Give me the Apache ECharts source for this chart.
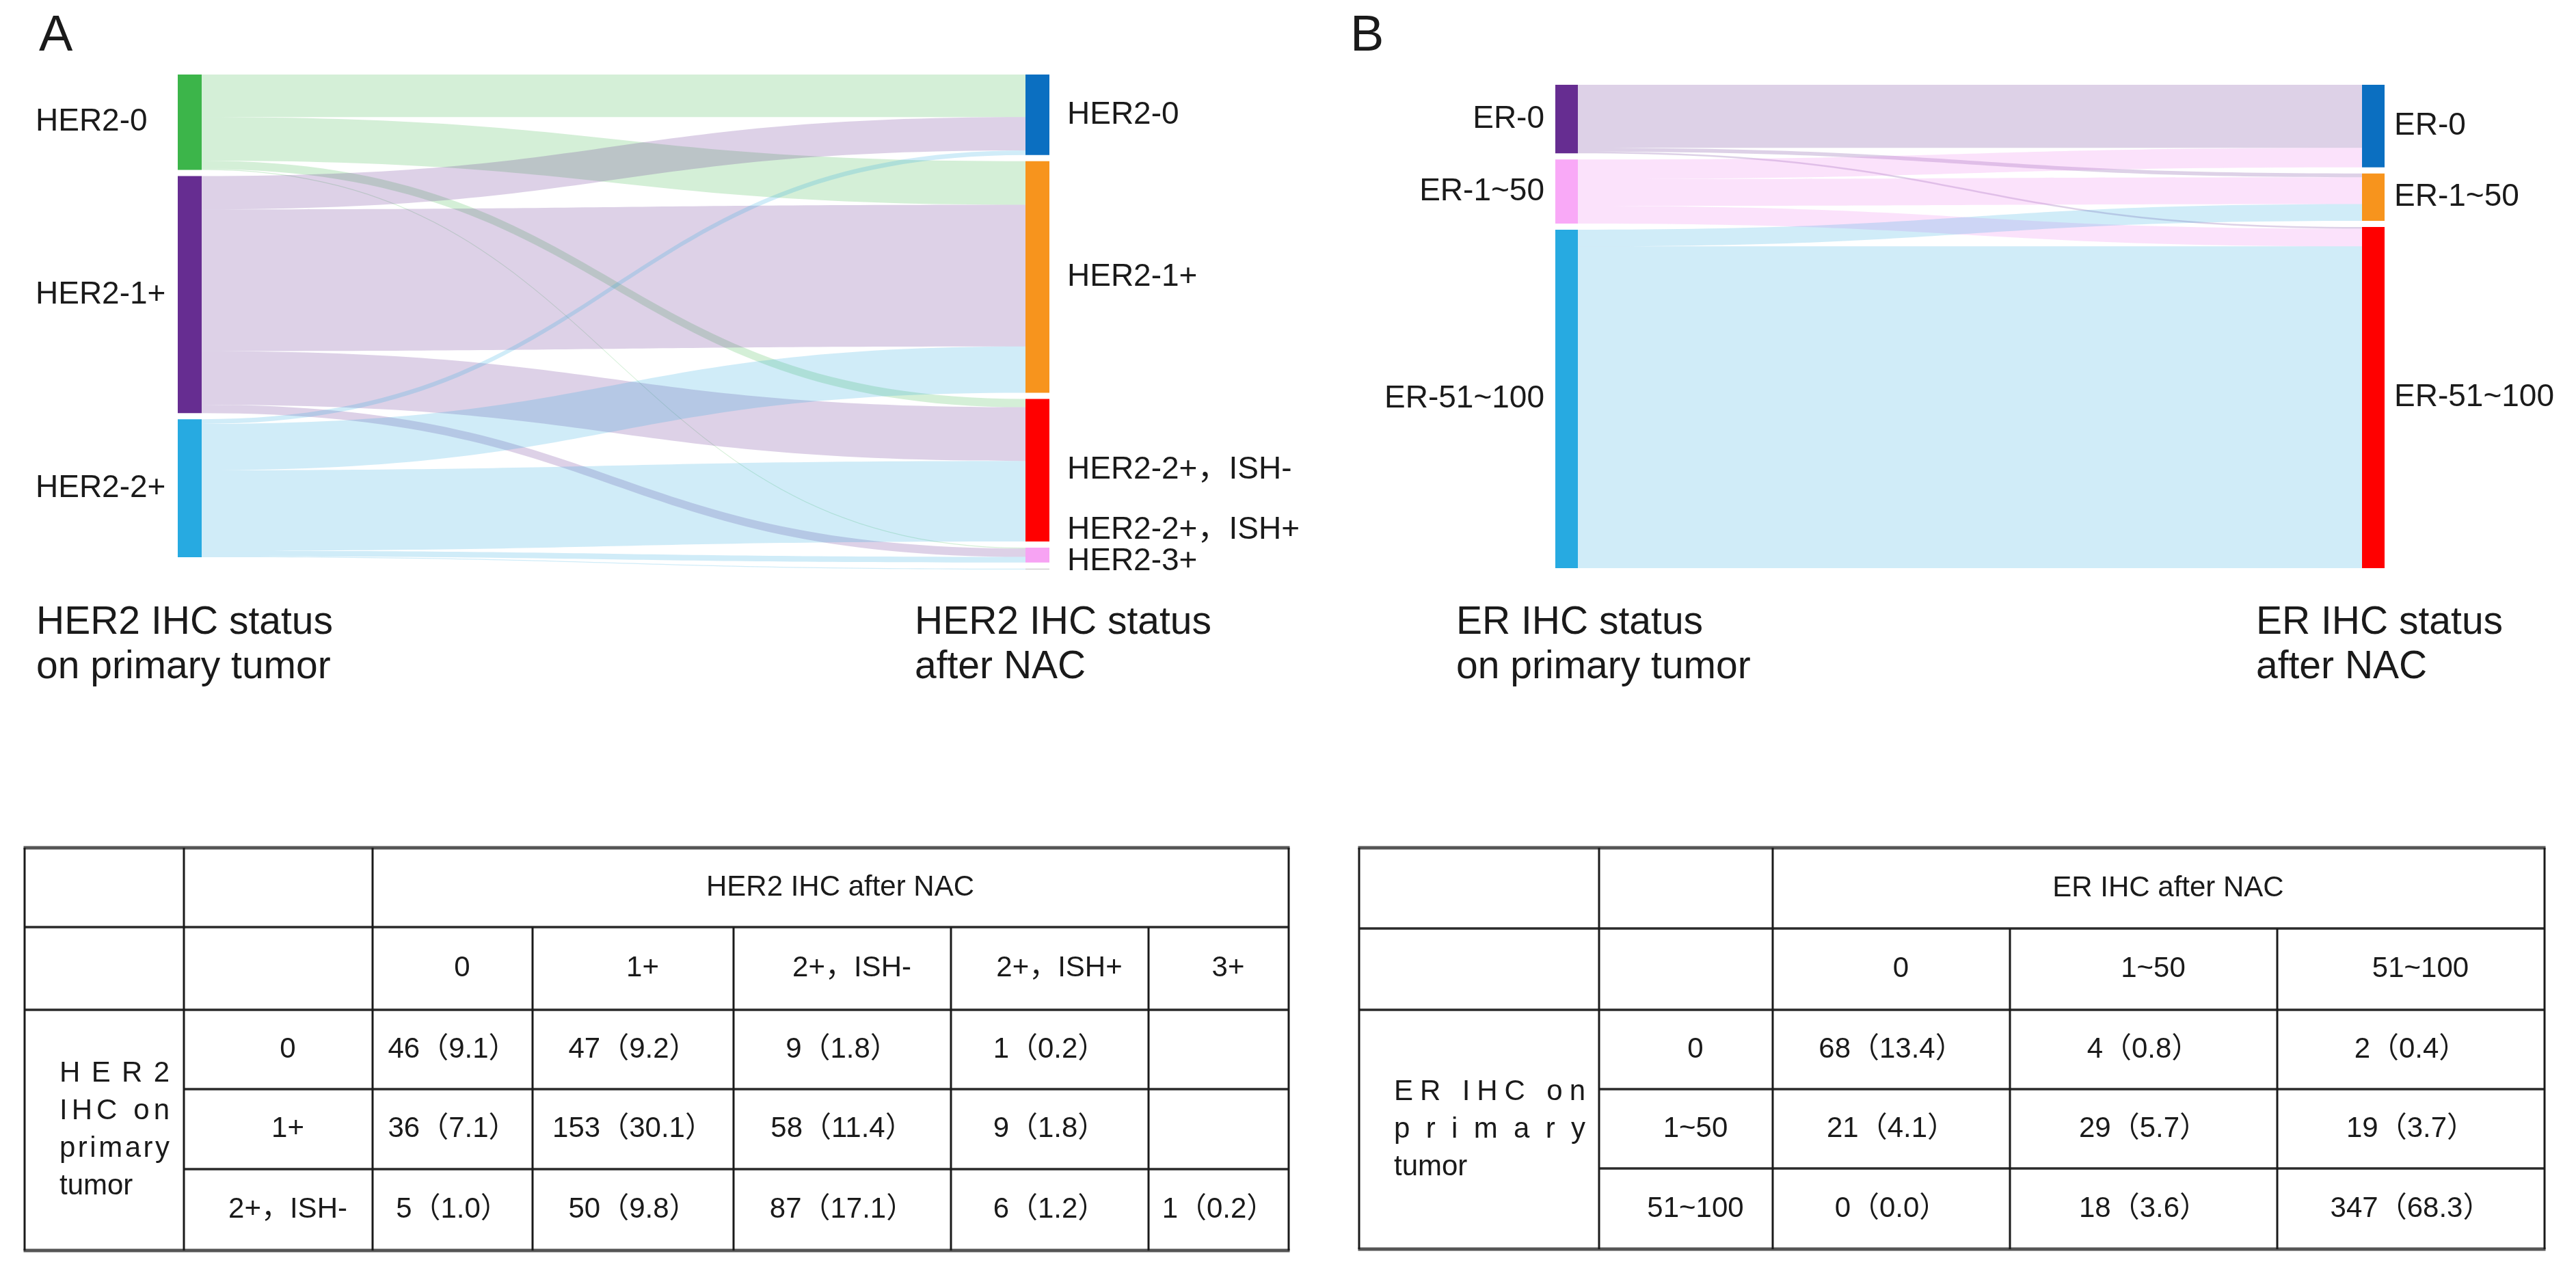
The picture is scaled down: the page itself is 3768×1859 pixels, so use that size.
<!DOCTYPE html>
<html>
<head>
<meta charset="utf-8">
<script src="https://cdn.jsdelivr.net/npm/echarts@6/dist/echarts.min.js"></script>
<style>
html,body{margin:0;padding:0;background:#ffffff;}
#chart{width:3768px;height:1859px;}
</style>
</head>
<body>
<div id="chart"></div>
<script>
// ---------------- DATA ----------------
const her2PrimaryNodes = ['HER2-0', 'HER2-1+', 'HER2-2+'];
const her2AfterNodes = ['HER2-0', 'HER2-1+', 'HER2-2+，ISH-', 'HER2-2+，ISH+', 'HER2-3+'];
// rows: primary tumor (0, 1+, 2+ISH-); cols: after NAC (0, 1+, 2+ISH-, 2+ISH+, 3+)
const her2Counts = [
  [46, 47, 9, 1, null],
  [36, 153, 58, 9, null],
  [5, 50, 87, 6, 1]
];
const her2Percents = [
  [9.1, 9.2, 1.8, 0.2, null],
  [7.1, 30.1, 11.4, 1.8, null],
  [1.0, 9.8, 17.1, 1.2, 0.2]
];
const her2TableTitle = 'HER2 IHC after NAC';
const her2RowLabels = ['0', '1+', '2+，ISH-'];
const her2ColLabels = ['0', '1+', '2+，ISH-', '2+，ISH+', '3+'];
const her2SideLabel = ['HER2', 'IHC on', 'primary', 'tumor'];
const her2AxisLeft = ['HER2 IHC status', 'on primary tumor'];
const her2AxisRight = ['HER2 IHC status', 'after NAC'];

const erPrimaryNodes = ['ER-0', 'ER-1~50', 'ER-51~100'];
const erAfterNodes = ['ER-0', 'ER-1~50', 'ER-51~100'];
const erCounts = [
  [68, 4, 2],
  [21, 29, 19],
  [0, 18, 347]
];
const erPercents = [
  [13.4, 0.8, 0.4],
  [4.1, 5.7, 3.7],
  [0.0, 3.6, 68.3]
];
const erTableTitle = 'ER IHC after NAC';
const erRowLabels = ['0', '1~50', '51~100'];
const erColLabels = ['0', '1~50', '51~100'];
const erSideLabel = ['ER IHC on', 'primary', 'tumor'];
const erAxisLeft = ['ER IHC status', 'on primary tumor'];
const erAxisRight = ['ER IHC status', 'after NAC'];

const panelLetters = ['A', 'B'];

// ---------------- STYLE ----------------
const FONT = "'Liberation Sans', Arial, 'Noto Sans CJK SC', sans-serif";
const TEXT = '#1a1a1a';
const her2LeftColors = ['#3cb54a', '#662d91', '#27aae1'];
const her2RightColors = ['#0b6fc1', '#f7941d', '#ff0000', '#f7a3f3', '#c8c8c8'];
const her2LinkColors = ['#3cb54a', '#662d91', '#27aae1'];
const erLeftColors = ['#662d91', '#f9a9f7', '#27aae1'];
const erRightColors = ['#0b6fc1', '#f7941d', '#ff0000'];
const erLinkColors = ['#662d91', '#ee7cee', '#27aae1'];

function buildSankey(leftNames, rightNames, counts, leftColors, rightColors, linkColors, leftLabel, rightLabel, rightOffsets) {
  const data = [];
  leftNames.forEach((n, i) => data.push({
    name: 'L|' + n, itemStyle: { color: leftColors[i] }, label: leftLabel
  }));
  rightNames.forEach((n, j) => {
    const lab = Object.assign({}, rightLabel);
    if (rightOffsets && rightOffsets[j]) lab.offset = rightOffsets[j];
    data.push({ name: 'R|' + n, itemStyle: { color: rightColors[j] }, label: lab });
  });
  const links = [];
  counts.forEach((row, i) => row.forEach((v, j) => {
    if (v) links.push({
      source: 'L|' + leftNames[i], target: 'R|' + rightNames[j], value: v,
      lineStyle: { color: linkColors[i] }
    });
  }));
  return { data, links };
}

const sankeyA = buildSankey(her2PrimaryNodes, her2AfterNodes, her2Counts,
  her2LeftColors, her2RightColors, her2LinkColors,
  { position: [-208, '50%'], align: 'left', verticalAlign: 'middle' },
  { position: 'right', distance: 26 },
  [null, null, null, [0, -36], [0, -11]]);

const sankeyB = buildSankey(erPrimaryNodes, erAfterNodes, erCounts,
  erLeftColors, erRightColors, erLinkColors,
  { position: 'left', distance: 16 },
  { position: 'right', distance: 14 },
  null);

function sankeySeries(s, box) {
  return Object.assign({
    type: 'sankey',
    nodeWidth: box.nodeWidth,
    nodeGap: box.nodeGap,
    layoutIterations: 0,
    draggable: false,
    emphasis: { disabled: true },
    label: {
      fontSize: 46, color: TEXT, fontFamily: FONT,
      formatter: p => p.name.split('|')[1]
    },
    itemStyle: { borderWidth: 0 },
    lineStyle: { opacity: 0.22, curveness: 0.5 },
    data: s.data,
    links: s.links
  }, { left: box.left, top: box.top, width: box.width, height: box.height });
}

// ---------------- TABLES (graphic) ----------------
const measureCtx = document.createElement('canvas').getContext('2d');
function textW(t, size) { measureCtx.font = size + 'px ' + FONT; return measureCtx.measureText(t).width; }

function txt(x, y, text, size, align) {
  return { type: 'text', x: x, y: y, silent: true,
    style: { text: text, fill: TEXT, fontSize: size, fontFamily: FONT, align: align || 'center', verticalAlign: 'middle' } };
}
function hline(x1, x2, y, w, c) {
  return { type: 'line', silent: true, shape: { x1: x1, y1: y, x2: x2, y2: y }, style: { stroke: c, lineWidth: w } };
}
function vline(x, y1, y2, w, c) {
  return { type: 'line', silent: true, shape: { x1: x, y1: y1, x2: x, y2: y2 }, style: { stroke: c, lineWidth: w } };
}
function justified(x, y, text, size, width) {
  const chars = Array.from(text);
  const ws = chars.map(ch => textW(ch, size));
  const total = ws.reduce((a, b) => a + b, 0);
  const gap = chars.length > 1 ? (width - total) / (chars.length - 1) : 0;
  const out = [];
  let cx = x;
  chars.forEach((ch, i) => { if (ch !== ' ') out.push(txt(cx, y, ch, size, 'left')); cx += ws[i] + gap; });
  return out;
}

function buildTable(X, Y, title, colLabels, rowLabels, sideLines, sideJustify, sideX, sideW, counts, percents) {
  const els = [];
  const FS = 42, DX = 14, LH = 55;
  const nC = colLabels.length;
  const xEnd = X[X.length - 1];
  // horizontal rules
  els.push(hline(X[0] - 1.5, xEnd + 1.5, Y[0], 5, '#555'));
  els.push(hline(X[0], xEnd, Y[1], 3.5, '#2a2a2a'));
  els.push(hline(X[0], xEnd, Y[2], 3.5, '#2a2a2a'));
  for (let r = 3; r < Y.length - 1; r++) els.push(hline(X[1], xEnd, Y[r], 3.5, '#2a2a2a'));
  els.push(hline(X[0] - 1.5, xEnd + 1.5, Y[Y.length - 1], 5, '#555'));
  // vertical rules
  [0, 1, 2].forEach(i => els.push(vline(X[i], Y[0], Y[Y.length - 1], 3, '#1a1a1a')));
  for (let i = 3; i < X.length - 1; i++) els.push(vline(X[i], Y[1], Y[Y.length - 1], 3, '#1a1a1a'));
  els.push(vline(xEnd, Y[0], Y[Y.length - 1], 3, '#1a1a1a'));
  // header title
  els.push(txt((X[2] + xEnd) / 2 + DX, (Y[0] + Y[1]) / 2, title, FS));
  // column labels
  colLabels.forEach((c, j) => els.push(txt((X[2 + j] + X[3 + j]) / 2 + DX, (Y[1] + Y[2]) / 2, c, FS)));
  // row labels + cells
  rowLabels.forEach((rl, i) => {
    const cy = (Y[2 + i] + Y[3 + i]) / 2;
    els.push(txt((X[1] + X[2]) / 2 + DX, cy, rl, FS));
    for (let j = 0; j < nC; j++) {
      const v = counts[i][j];
      if (v === null || v === undefined) continue;
      els.push(txt((X[2 + j] + X[3 + j]) / 2, cy, v + '（' + percents[i][j].toFixed(1) + '）', FS));
    }
  });
  // merged side label
  const midY = (Y[2] + Y[Y.length - 1]) / 2;
  sideLines.forEach((line, k) => {
    const y = midY + (k - (sideLines.length - 1) / 2) * LH;
    if (sideJustify[k]) justified(sideX, y, line, FS, sideW).forEach(e => els.push(e));
    else els.push(txt(sideX, y, line, FS, 'left'));
  });
  return els;
}

const tableA = buildTable([36, 269, 545, 779, 1073, 1391, 1680, 1885], [1240, 1356, 1477, 1593, 1710, 1829],
  her2TableTitle, her2ColLabels, her2RowLabels, her2SideLabel, [true, true, true, false], 87, 161, her2Counts, her2Percents);
const tableB = buildTable([1988, 2339, 2593, 2940, 3331, 3722], [1240, 1358, 1477, 1593, 1709, 1827],
  erTableTitle, erColLabels, erRowLabels, erSideLabel, [true, true, false], 2039, 280, erCounts, erPercents);

function axisTitle(x, lines) {
  return lines.map((l, k) => txt(x, 911 + k * 65, l, 57, 'left'));
}

const graphics = [].concat(
  [txt(57, 54, panelLetters[0], 74, 'left'), txt(1975, 54, panelLetters[1], 74, 'left')],
  axisTitle(53, her2AxisLeft), axisTitle(1338, her2AxisRight),
  axisTitle(2130, erAxisLeft), axisTitle(3300, erAxisRight),
  tableA, tableB
);

const chart = echarts.init(document.getElementById('chart'), null, { renderer: 'canvas' });
chart.setOption({
  backgroundColor: '#ffffff',
  animation: false,
  series: [
    sankeySeries(sankeyA, { left: 260, top: 109, width: 1275, height: 724, nodeWidth: 35, nodeGap: 9 }),
    sankeySeries(sankeyB, { left: 2275, top: 124, width: 1213, height: 707, nodeWidth: 33, nodeGap: 9 })
  ],
  graphic: { elements: graphics }
});
</script>
</body>
</html>
